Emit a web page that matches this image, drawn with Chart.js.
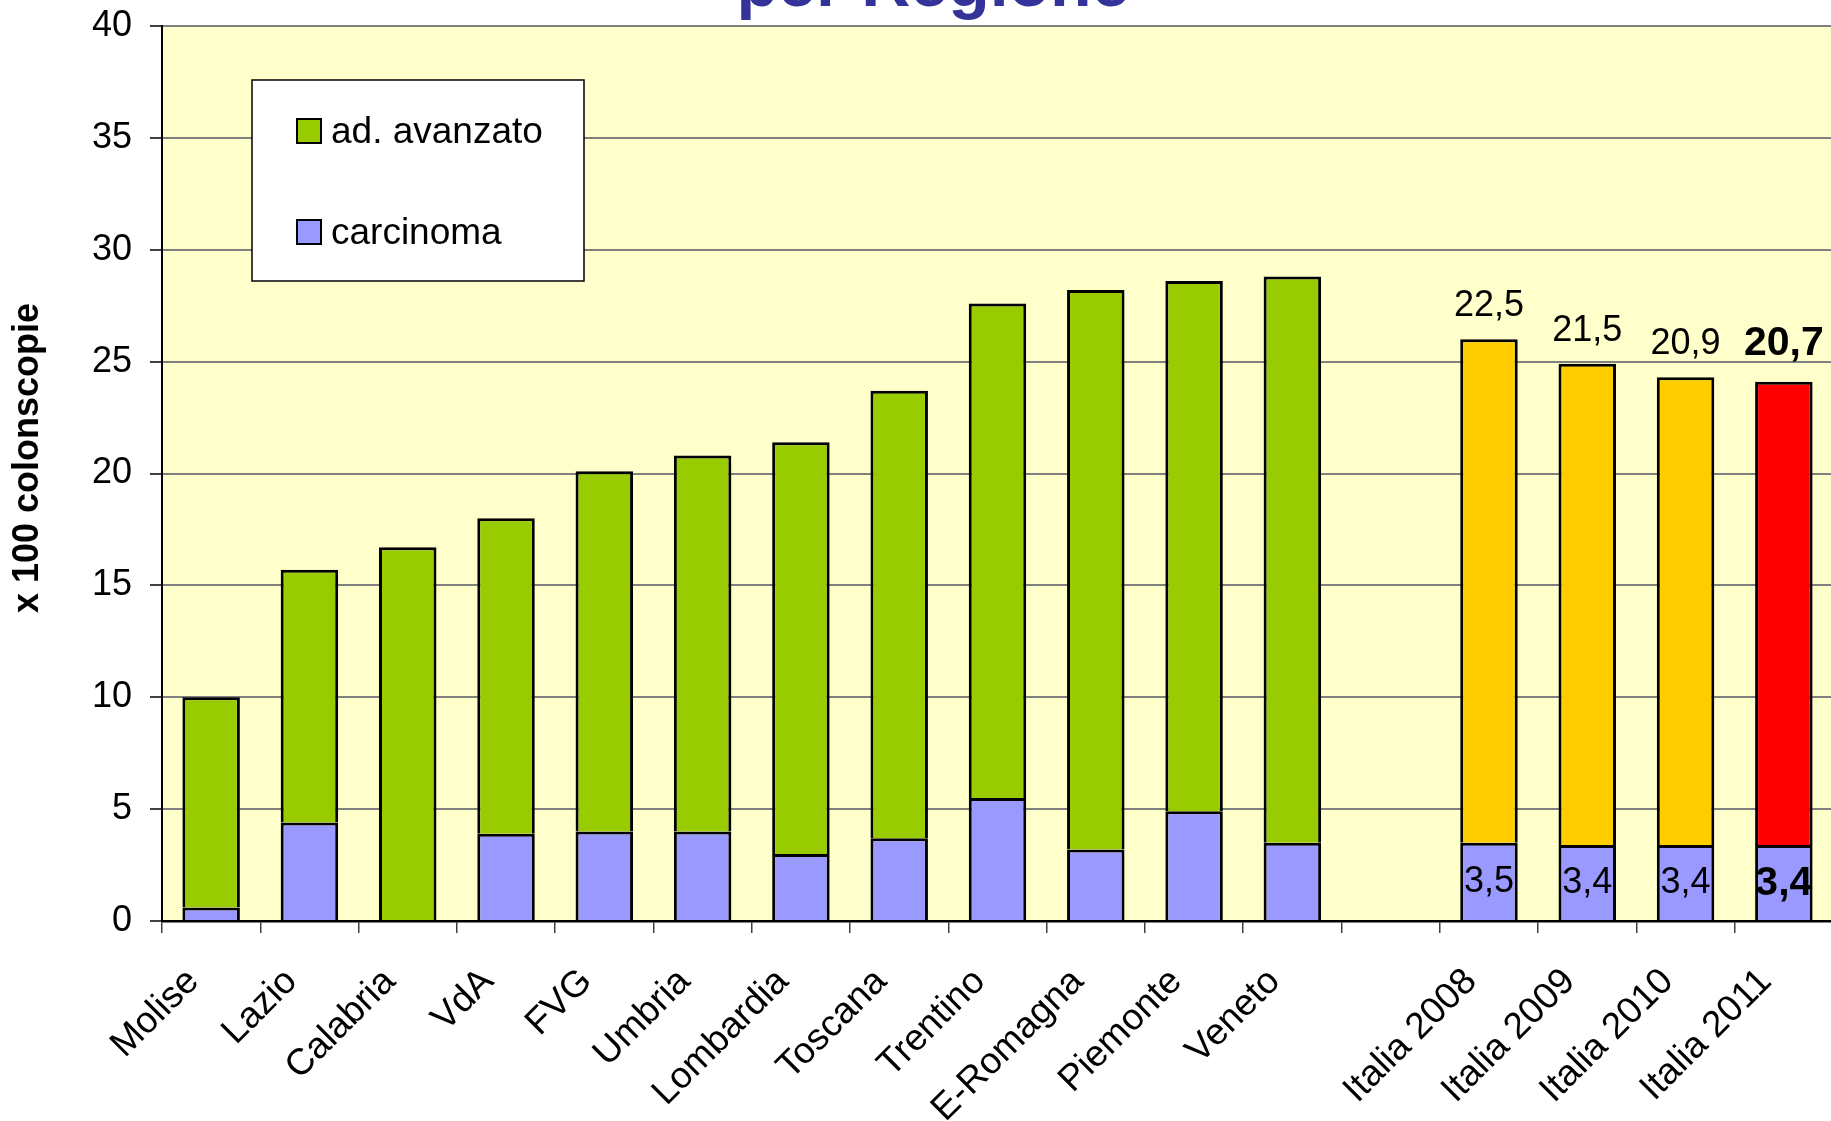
<!DOCTYPE html>
<html>
<head>
<meta charset="utf-8">
<script src="https://cdn.jsdelivr.net/npm/chart.js@4.4.1/dist/chart.umd.min.js"></script>
<style>
  html, body { margin: 0; padding: 0; background: #fff; overflow: hidden; }
  #wrap { position: relative; width: 1831px; height: 1121px; overflow: hidden; }
  #chart { position: absolute; left: 0; top: 0; }
</style>
</head>
<body>
<div id="wrap"><canvas id="chart" width="1840" height="1121"></canvas></div>
<script>
// categories (empty slot between regions and Italia)
const categories = ['Molise', 'Lazio', 'Calabria', 'VdA', 'FVG', 'Umbria', 'Lombardia', 'Toscana',
  'Trentino', 'E-Romagna', 'Piemonte', 'Veneto', '', 'Italia 2008', 'Italia 2009', 'Italia 2010', 'Italia 2011'];

// x 100 colonscopie
const carcinoma = [0.6, 4.4, null, 3.9, 4.0, 4.0, 3.0, 3.7, 5.5, 3.2, 4.9, 3.5, null, 3.5, 3.4, 3.4, 3.4];
const adAvanzato = [9.4, 11.3, 16.7, 14.1, 16.1, 16.8, 18.4, 20.0, 22.1, 25.0, 23.7, 25.3, null, 22.5, 21.5, 20.9, 20.7];

const yTicks = [0, 5, 10, 15, 20, 25, 30, 35, 40];

const GREEN = '#99CC00', BLUE = '#9999FF', ORANGE = '#FFCC00', RED = '#FF0000';
const FONT = "'Liberation Sans', Arial, sans-serif";

const labelled = [13, 14, 15, 16];   // Italia bars get value labels
const highlight = 16;                // Italia 2011 in bold

const advColors = categories.map((c, i) => i === highlight ? RED : (c.startsWith('Italia') ? ORANGE : GREEN));

Chart.defaults.font.family = FONT;
Chart.defaults.font.size = 36;
Chart.defaults.color = '#000';

const fmt = v => v.toFixed(1).replace('.', ',');

const plotBg = {
  id: 'plotBg',
  beforeDraw(chart) {
    const { ctx, chartArea: a } = chart;
    ctx.save();
    ctx.fillStyle = '#FFFFCC';
    ctx.fillRect(a.left, a.top, a.right - a.left, a.bottom - a.top);
    ctx.restore();
  }
};

const extras = {
  id: 'extras',
  afterDraw(chart) {
    const ctx = chart.ctx;
    ctx.save();

    // title (only last line visible)
    ctx.fillStyle = '#333399';
    ctx.font = 'bold 68px ' + FONT;
    ctx.textAlign = 'center';
    ctx.textBaseline = 'alphabetic';
    ctx.fillText('per Regione', 933, 6);

    // y axis title
    ctx.save();
    ctx.translate(28, 458);
    ctx.rotate(-Math.PI / 2);
    ctx.fillStyle = '#000';
    ctx.font = 'bold 36px ' + FONT;
    ctx.textBaseline = 'middle';
    ctx.fillText('x 100 colonscopie', 0, 0);
    ctx.restore();

    // value labels for Italia bars
    const carcMeta = chart.getDatasetMeta(0);
    const advMeta = chart.getDatasetMeta(1);
    ctx.fillStyle = '#000';
    labelled.forEach(i => {
      const bold = i === highlight;
      ctx.font = (bold ? 'bold 41px ' : '36px ') + FONT;
      const top = advMeta.data[i];
      ctx.textBaseline = 'alphabetic';
      ctx.fillText(fmt(adAvanzato[i]), top.x, top.y - (bold ? 27 : 23));
      const low = carcMeta.data[i];
      ctx.textBaseline = 'middle';
      ctx.fillText(fmt(carcinoma[i]), low.x, (low.y + low.base) / 2 + 1);
    });

    // legend box
    const bx = 252, by = 80, bw = 332, bh = 201;
    ctx.fillStyle = '#fff';
    ctx.fillRect(bx, by, bw, bh);
    ctx.strokeStyle = '#000';
    ctx.lineWidth = 1.5;
    ctx.strokeRect(bx, by, bw, bh);
    const items = [chart.data.datasets[1], chart.data.datasets[0]];
    const colors = [GREEN, BLUE];
    const baselines = [143, 244];
    ctx.font = '37px ' + FONT;
    ctx.textAlign = 'left';
    ctx.textBaseline = 'alphabetic';
    items.forEach((ds, k) => {
      const sy = baselines[k] - 24;
      ctx.fillStyle = colors[k];
      ctx.fillRect(297, sy, 24, 24);
      ctx.lineWidth = 2;
      ctx.strokeStyle = '#000';
      ctx.strokeRect(297, sy, 24, 24);
      ctx.fillStyle = '#000';
      ctx.fillText(ds.label, 331, baselines[k]);
    });
    ctx.restore();
  }
};

new Chart(document.getElementById('chart'), {
  type: 'bar',
  data: {
    labels: categories,
    datasets: [
      { label: 'carcinoma', data: carcinoma, backgroundColor: BLUE, borderColor: '#000', borderWidth: 3 },
      { label: 'ad. avanzato', data: adAvanzato, backgroundColor: advColors, borderColor: '#000', borderWidth: 3 }
    ]
  },
  options: {
    responsive: false,
    animation: false,
    layout: { padding: { top: 26, right: 7, left: 0, bottom: 0 } },
    datasets: { bar: { barPercentage: 0.585, categoryPercentage: 1 } },
    plugins: { legend: { display: false }, tooltip: { enabled: false } },
    scales: {
      x: {
        stacked: true,
        grid: { drawOnChartArea: false, offset: true, tickLength: 12, color: '#404040', lineWidth: 1.5 },
        border: { color: '#000', width: 2.5 },
        ticks: { autoSkip: false, minRotation: 45, maxRotation: 45, padding: 27, labelOffset: -18, font: { size: 37 } },
        afterFit(scale) { scale.height = 200; scale.paddingLeft = 0; scale.paddingRight = 0; }
      },
      y: {
        stacked: true,
        min: 0,
        max: 40,
        afterBuildTicks(scale) { scale.ticks = yTicks.map(v => ({ value: v })); },
        grid: { color: '#808080', lineWidth: 2, tickLength: 12, tickColor: '#404040' },
        border: { color: '#000', width: 2 },
        ticks: { padding: 18, font: { size: 36 } },
        afterFit(scale) { scale.width = 162; scale.paddingTop = 0; scale.paddingBottom = 0; }
      }
    }
  },
  plugins: [plotBg, extras]
});
</script>
</body>
</html>
